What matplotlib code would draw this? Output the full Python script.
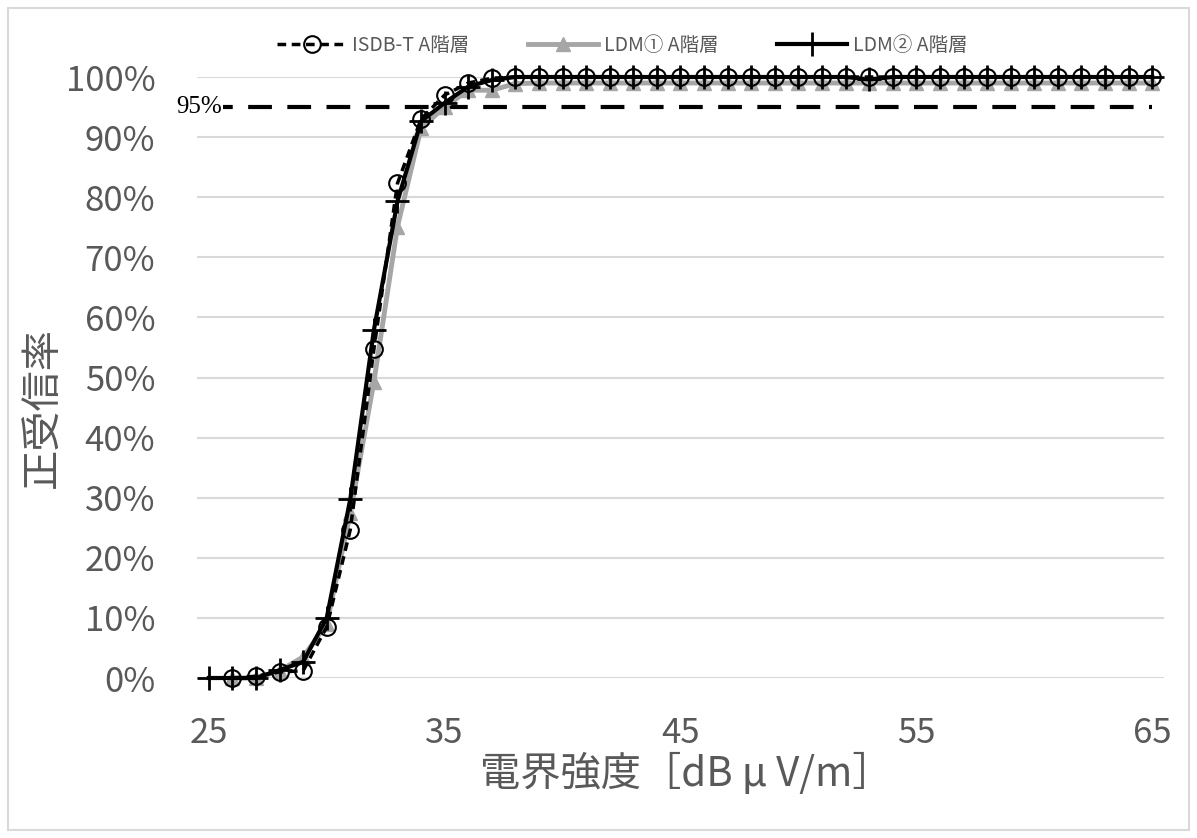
import numpy as np
import matplotlib
matplotlib.use("Agg")
import matplotlib.pyplot as plt
from matplotlib.patches import Rectangle

plt.rcParams['font.family'] = ['Noto Sans CJK JP', 'DejaVu Sans']

# ---- data ----
field_db = list(range(25, 66))
nan = np.nan
isdb_t = [nan, 0, 0.3, 1.0, 1.2, 8.5, 24.7, 54.7, 82.3, 93.0, 97.0, 99.0, 99.8] + [100.0] * 28
ldm1 = [nan, 0, 0, 1.2, 3.5, 9.0, 27.4, 49.3, 75.1, 91.5, 95.0, 97.8, 97.8, 98.9] + [99.0] * 27
ldm2 = [0, 0, 0, 1.3, 2.7, 10.0, 29.8, 57.9, 79.3, 92.6, 95.7, 98.4, 99.5] + [100.0] * 28
ldm2[53 - 25] = 99.6
thresh_x = [25, 65]
thresh_y = [95, 95]
thresh_label = "95%"
series_names = ["ISDB-T A階層", "LDM① A階層", "LDM② A階層"]
x_ticks = [25, 35, 45, 55, 65]
y_ticks = list(range(0, 101, 10))
xlabel = "電界強度［dB μ V/m］"
ylabel = "正受信率"

fig = plt.figure(figsize=(11.97, 8.38), dpi=100)
ax = fig.add_axes([197/1197, 1 - 678/838, (1164-197)/1197, (678-77)/838])

# chart border
fig.patches.append(Rectangle((8/1197, 8/838), (1189-8)/1197, (830-8)/838, transform=fig.transFigure,
                             fill=False, edgecolor='#D9D9D9', lw=1.5))

txt_col = '#595959'
ax.set_xlim(24.5, 65.5)
ax.set_ylim(0, 100)
ax.set_yticks(y_ticks)
ax.set_yticklabels([f"{v}%" for v in y_ticks])
ax.set_xticks(x_ticks)
ax.tick_params(axis='both', length=0, labelsize=25, colors=txt_col)
ax.tick_params(axis='y', pad=30)
ax.tick_params(axis='x', pad=27)
for s in ax.spines.values():
    s.set_visible(False)
ax.grid(axis='y', color='#D9D9D9', lw=1.5)
ax.set_axisbelow(True)

# threshold line
ax.plot(thresh_x, thresh_y, color='black', lw=3, dashes=(5.7, 3.7), zorder=2)
ax.text(thresh_x[0] + 0.55, thresh_y[0], thresh_label, family='Liberation Serif', fontsize=18,
        ha='right', va='center', color='black', zorder=2.5,
        bbox=dict(facecolor='white', edgecolor='none', pad=1))

l1, = ax.plot(field_db, ldm1, color='#A6A6A6', lw=3.5, marker='^', ms=10, mfc='#A6A6A6',
              mec='#A6A6A6', label=series_names[1], zorder=3, clip_on=False)
l0, = ax.plot(field_db, isdb_t, color='black', lw=2.5, dashes=(2.5, 1.6), marker='o', ms=12,
              mfc='none', mec='black', mew=1.5, label=series_names[0], zorder=4, clip_on=False)
l2, = ax.plot(field_db, ldm2, color='black', lw=3, marker='+', ms=17, mew=2,
              label=series_names[2], zorder=5, clip_on=False)

leg = fig.legend(handles=[l0, l1, l2], loc='center', bbox_to_anchor=(622/1197, 1 - 45/838),
                 ncol=3, frameon=False, fontsize=14, handlelength=3.6, columnspacing=3.0,
                 handletextpad=0.3, labelcolor=txt_col)

ax.set_xlabel(xlabel, fontsize=29, color=txt_col, va='center')
ax.xaxis.set_label_coords((686 - 197) / 967, (678 - 774) / 601)
ax.set_ylabel(ylabel, fontsize=29, color=txt_col, va='center')
ax.yaxis.set_label_coords((42 - 197) / 967, (678 - 407) / 601)

fig.savefig("out.png", dpi=100)
